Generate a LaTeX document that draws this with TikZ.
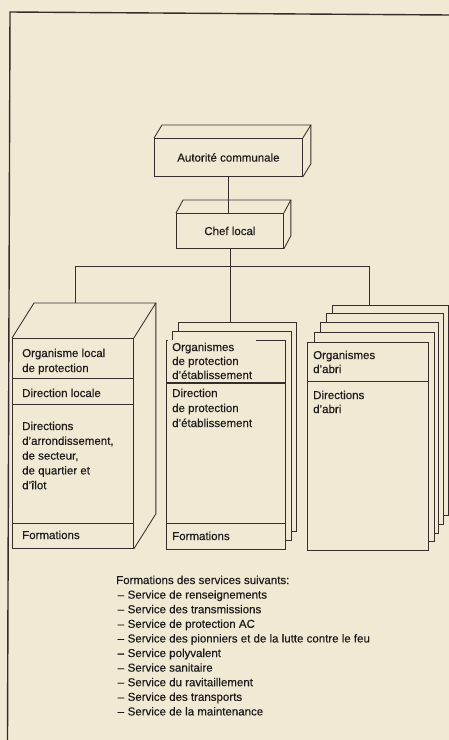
\documentclass[tikz,border=0pt]{standalone}
\usepackage{fontspec}
\setmainfont[FakeBold=0.4]{Liberation Sans}
\usetikzlibrary{calc}
\definecolor{paper}{RGB}{240,234,213}
\definecolor{ink}{RGB}{52,47,44}
\definecolor{txt}{RGB}{30,27,27}
\newcommand\svc[1]{\hspace*{1.5pt}\makebox[10pt][l]{–}#1}
\newcommand\depthfaces[3]{%
  \draw[ln] (#1.north west) -- ++(#2,#3) coordinate (#1A) -- ([shift={(#2,#3)}]#1.north east) coordinate (#1B) -- (#1.north east);
  \draw[ln] (#1B) -- ([shift={(#2,#3)}]#1.south east) coordinate (#1C) -- (#1.south east);}
\begin{document}
\begin{tikzpicture}[x=1pt,y=-1pt,
  ln/.style={draw=ink, line width=0.85pt},
  face/.style={ln, fill=paper, inner sep=0pt, anchor=north west, text=txt, font=\fontsize{11.5}{15}\selectfont},
  lbl/.style={text=txt, font=\fontsize{11.5}{15}\selectfont, align=left, inner sep=0pt, anchor=north west}]
\fill[paper] (0,0) rectangle (449,740);
\useasboundingbox (0,0) rectangle (449,740);
% frame
\draw[draw=ink, line width=1.4pt] (7.5,741) -- (10,12) -- (450,15);

% top boxes
\node[face, minimum width=148pt, minimum height=38pt] (auto) at (154,138) {Autorité communale};
\depthfaces{auto}{8}{-13}
\node[face, minimum width=107pt, minimum height=35pt] (chef) at (176,213) {Chef local};
\depthfaces{chef}{7}{-13}

% left box
\node[face, minimum width=121pt, minimum height=210pt] (bone) at (12,338) {};
\depthfaces{bone}{22}{-35}
\path (bone.north west) ++(0,40) coordinate (bd1) ++(0,26) coordinate (bd2) ++(0,119) coordinate (bd3);
\draw[ln] (bd1) -- (bd1 -| bone.east);
\draw[ln] (bd2) -- (bd2 -| bone.east);
\draw[ln] (bd3) -- (bd3 -| bone.east);
\node[lbl] (tb1) at (22,348.5) {Organisme local\\de protection};
\node[lbl] (tb2) at (22,388.5) {Direction locale};
\node[lbl, font=\fontsize{11.5}{14.8}\selectfont] (tb3) at (22,421.5) {Directions\\d'arrondissement,\\de secteur,\\de quartier et\\d'îlot};
\node[lbl] (tb4) at (22,530.5) {Formations};

% middle stack
\node[face, minimum width=118pt, minimum height=209pt] (mthree) at (178,322) {};
\node[face, minimum width=119pt, minimum height=209pt] (mtwo) at (172,331) {};
\node[face, minimum width=119pt, minimum height=209pt] (mone) at (166,340) {};
\node[lbl, fill=paper, inner xsep=4pt, inner ysep=3pt, font=\fontsize{11.5}{14}\selectfont] (tm1) at (168,339.5) {Organismes\\de protection\\d'établissement};
\path (mone.north west) ++(0,43) coordinate (md1) ++(0,140) coordinate (md2);
\draw[draw=ink, line width=1.3pt] (md1) -- (md1 -| mone.east);
\draw[ln] (md2) -- (md2 -| mone.east);
\node[lbl] (tm2) at (172,388.5) {Direction\\de protection\\d'établissement};
\node[lbl] (tm3) at (172,531.5) {Formations};

% right stack
\node[face, minimum width=116pt, minimum height=210pt] (rfive) at (332,305) {};
\node[face, minimum width=117pt, minimum height=211pt] (rfour) at (326,313) {};
\node[face, minimum width=118pt, minimum height=211pt] (rthree) at (320,322) {};
\node[face, minimum width=120pt, minimum height=209pt] (rtwo) at (314,332) {};
\node[face, minimum width=121pt, minimum height=208pt] (rone) at (307,342) {};
\path (rone.north west) ++(0,39) coordinate (rd1);
\draw[ln] (rd1) -- (rd1 -| rone.east);
\node[lbl, font=\fontsize{11.5}{14}\selectfont] (tr1) at (313,350.5) {Organismes\\d'abri};
\node[lbl, font=\fontsize{11.5}{14}\selectfont] (tr2) at (313,390.5) {Directions\\d'abri};

% connectors
\draw[ln] (auto.south) -- (auto.south |- chef.north);
\coordinate (busL) at (75,266);
\coordinate (busR) at (369,266);
\draw[ln] (chef.south) -- (chef.south |- mthree.north);
\draw[ln] (boneA -| busL) -- (busL) -- (busR) -- (busR |- rfive.north);

% list
\node[lbl, font=\fontsize{11.5}{14.6}\selectfont] (list) at (116,575.5) {Formations des services suivants:\\
\svc{Service de renseignements}\\
\svc{Service des transmissions}\\
\svc{Service de protection AC}\\
\svc{Service des pionniers et de la lutte contre le feu}\\
\svc{Service polyvalent}\\
\svc{Service sanitaire}\\
\svc{Service du ravitaillement}\\
\svc{Service des transports}\\
\svc{Service de la maintenance}};
\end{tikzpicture}
\end{document}
